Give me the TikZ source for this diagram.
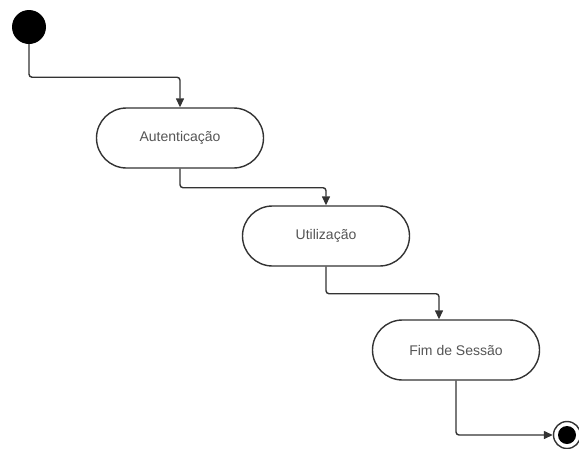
\documentclass[tikz,border=0pt]{standalone}
\usepackage{fontspec}
\setmainfont{Liberation Sans}
\usetikzlibrary{arrows.meta}
\definecolor{linegray}{HTML}{333333}
\definecolor{textgray}{HTML}{555555}
\begin{document}
\begin{tikzpicture}[x=1pt,y=-1pt,
  activity/.style={draw=linegray, line width=1.4pt, fill=white, rounded corners=30pt,
    minimum width=167pt, minimum height=60pt, inner sep=0pt,
    font=\fontsize{14}{16}\selectfont, text=textgray},
  flow/.style={draw=linegray, line width=1.4pt, rounded corners=3pt,
    -{Triangle[length=9pt,width=8pt]}},
  startnode/.style={circle, fill=black, minimum size=34pt, inner sep=0pt},
  endring/.style={circle, draw=linegray, line width=1.4pt, fill=white, minimum size=27pt, inner sep=0pt},
  enddot/.style={circle, fill=black, minimum size=18pt, inner sep=0pt}]
\useasboundingbox (0,0) rectangle (579,448);

% states
\node[startnode] (start) at (29,27) {};
\node[activity] (auth) at (180,138) {Autenticação};
\node[activity] (use) at (326,236) {Utilização};
\node[activity] (fim) at (456,350) {Fim de Sessão};
\node[endring] (final) at (567,435) {};
\node[enddot] (finaldot) at (final.center) {};

% transitions
\draw[flow] (start.south) -- ++(0,33) -| (auth.north);
\draw[flow] (auth.south) -- ++(0,19) -| (use.north);
\draw[flow] (use.south) -- ++(0,27) -| ([xshift=-17pt]fim.north);
\draw[flow] (fim.south) |- (final.west);
\end{tikzpicture}
\end{document}
